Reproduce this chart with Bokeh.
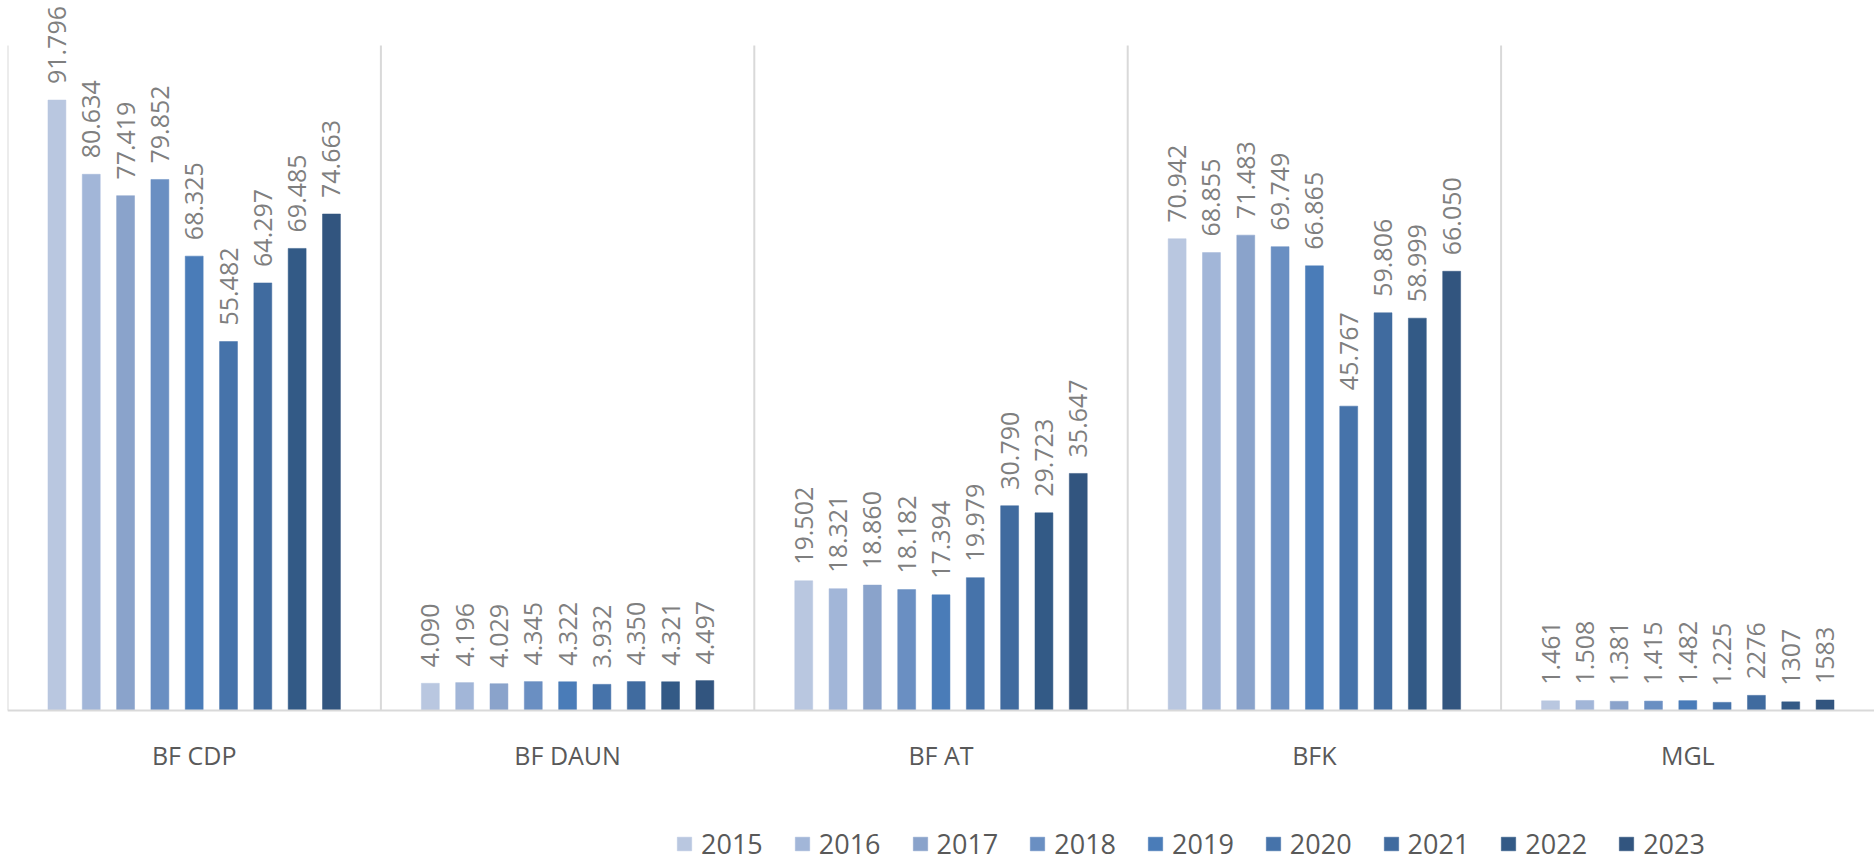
from bokeh.plotting import figure
from bokeh.models import ColumnDataSource, FactorRange, Range1d, Legend, LegendItem, Span
from bokeh.transform import dodge
from bokeh.core.properties import value
from bokeh.embed import file_html
from bokeh.resources import INLINE
from math import pi

categories = ["BF CDP", "BF DAUN", "BF AT", "BFK", "MGL"]
years = ["2015", "2016", "2017", "2018", "2019", "2020", "2021", "2022", "2023"]

v2015 = [91.796, 4.090, 19.502, 70.942, 1.461]
v2016 = [80.634, 4.196, 18.321, 68.855, 1.508]
v2017 = [77.419, 4.029, 18.860, 71.483, 1.381]
v2018 = [79.852, 4.345, 18.182, 69.749, 1.415]
v2019 = [68.325, 4.322, 17.394, 66.865, 1.482]
v2020 = [55.482, 3.932, 19.979, 45.767, 1.225]
v2021 = [64.297, 4.350, 30.790, 59.806, 2.276]
v2022 = [69.485, 4.321, 29.723, 58.999, 1.307]
v2023 = [74.663, 4.497, 35.647, 66.050, 1.583]
series = [v2015, v2016, v2017, v2018, v2019, v2020, v2021, v2022, v2023]

# data labels as printed in the source (MGL 2021-2023 printed without the decimal point)
mgl_labels = ["1.461", "1.508", "1.381", "1.415", "1.482", "1.225", "2276", "1307", "1583"]

colors = ["#B9C7E0", "#A2B6D8", "#8AA3CB", "#6A8FC2", "#4A7CB8",
          "#4673AA", "#406B9F", "#335A86", "#32557F"]

PX_W = 1874
PX_H = 862
BASE_PX = 710          # baseline distance from top of canvas
px_per_unit = 6.65

p = figure(x_range=FactorRange(factors=categories, range_padding=0),
           y_range=Range1d(-(PX_H - BASE_PX) / px_per_unit, BASE_PX / px_per_unit),
           width=PX_W, height=PX_H, output_backend="svg", toolbar_location=None,
           min_border_left=7, min_border_right=0, min_border_top=0,
           min_border_bottom=0)
p.outline_line_color = None
p.background_fill_color = "white"
p.border_fill_color = "white"
p.xgrid.visible = False
p.ygrid.visible = False
p.xaxis.visible = False
p.yaxis.visible = False

# group separators
sep = ColumnDataSource(dict(cat=categories, y0=[0] * 5, y1=[100] * 5))
p.segment(x0=dodge("cat", -0.5, range=p.x_range), y0="y0",
          x1=dodge("cat", -0.5, range=p.x_range), y1="y1",
          source=sep, line_color="#D9D9D9", line_width=2)
p.add_layout(Span(location=0, dimension="width", line_color="#D9D9D9", line_width=2))

# category labels
p.text(x="cat", y="y0", text="cat", source=sep, text_align="center",
       text_baseline="middle", y_offset=44, text_color="#595959",
       text_font=value("Open Sans"), text_font_size="25px")

slot = 0.0919
bw = 0.048
items = []
for i, (yr, vals, col) in enumerate(zip(years, series, colors)):
    labels = [f"{v:.3f}" for v in vals[:4]] + [mgl_labels[i]]
    src = ColumnDataSource(dict(cat=categories, val=vals, lab=labels))
    off = (i - 4) * slot
    r = p.vbar(x=dodge("cat", off, range=p.x_range), top="val", width=bw,
               source=src, fill_color=col, line_color=col, line_width=0.5)
    p.text(x=dodge("cat", off, range=p.x_range), y="val", text="lab", source=src,
           angle=pi / 2, text_align="left", text_baseline="middle",
           y_offset=-16, text_color="#7F7F7F", text_font=value("Open Sans"),
           text_font_size="25px")
    items.append(LegendItem(label=yr, renderers=[r]))

legend = Legend(items=items, orientation="horizontal", location=(668, 0),
                label_text_font="Open Sans", label_text_font_size="27px",
                label_text_color="#595959", glyph_width=18, glyph_height=17,
                label_height=20, label_standoff=8, spacing=30, padding=0, margin=0,
                border_line_color=None, background_fill_alpha=0)
p.add_layout(legend, "center")

open("out.html", "w").write(file_html(p, INLINE))
